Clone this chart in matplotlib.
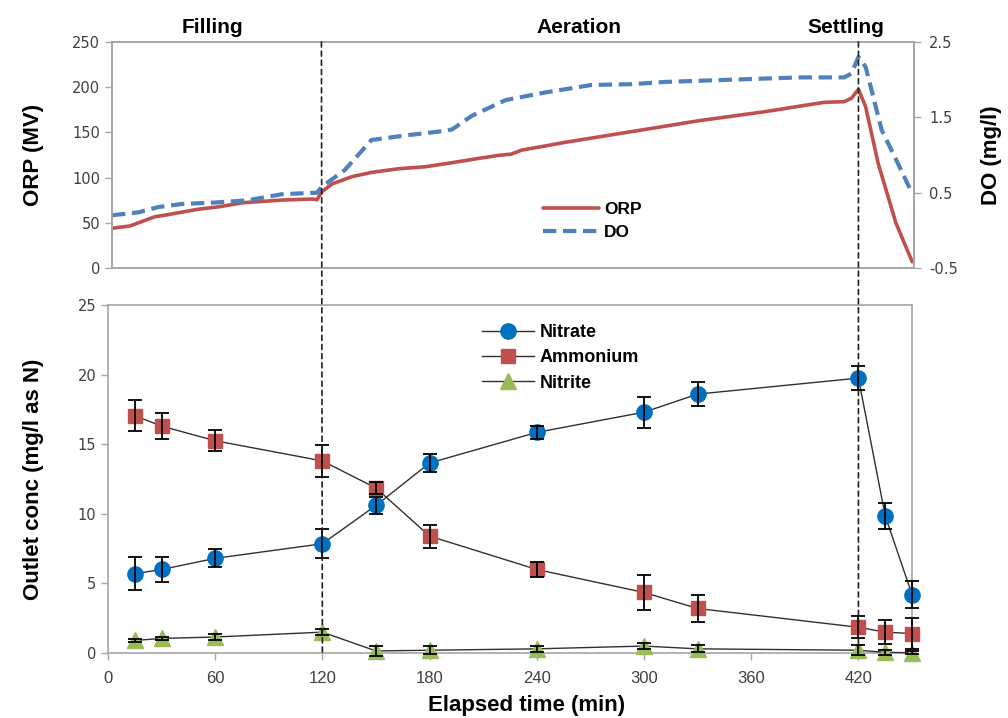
import matplotlib
matplotlib.use("Agg")
import matplotlib.pyplot as plt
from matplotlib.patches import ConnectionPatch

# ---------------- data ----------------
orp_t = [3, 13, 27, 33, 51, 63, 76, 98, 115, 117.5, 120.3, 126, 137, 148, 163, 178, 193,
         208, 219, 226, 232, 245, 256, 293, 331, 368, 387, 401, 412, 416, 420, 424, 431, 441, 450]
orp_v = [44, 46.5, 56.8, 58.6, 65, 67.8, 72.2, 75.2, 76.3, 75.5, 84.4, 93, 101, 105.8, 109.8,
         112, 116.5, 121.3, 124.6, 126, 130.5, 135, 139, 150.8, 163, 173, 179, 183.3, 184,
         187.7, 197.6, 178.4, 115.8, 49.4, 7]

do_t = [3, 18, 29, 42, 61, 79, 98, 117.5, 120.3, 133, 148, 167, 189, 193, 204, 223, 245,
        271, 293, 312, 349, 387, 412, 416, 420, 424, 433, 442, 450]
do_v = [0.20, 0.24, 0.31, 0.35, 0.37, 0.40, 0.48, 0.50, 0.58, 0.80, 1.20, 1.26, 1.32, 1.34,
        1.52, 1.73, 1.83, 1.93, 1.94, 1.97, 2.00, 2.03, 2.03, 2.08, 2.30, 2.17, 1.33, 0.89, 0.49]

time_pts = [15, 30, 60, 120, 150, 180, 240, 300, 330, 420, 435, 450]
nitrate = [5.7, 6.0, 6.8, 7.85, 10.6, 13.65, 15.85, 17.3, 18.6, 19.75, 9.85, 4.2]
nitrate_err = [1.2, 0.9, 0.65, 1.05, 0.6, 0.65, 0.45, 1.1, 0.85, 0.88, 0.95, 1.0]
ammonium = [17.05, 16.3, 15.25, 13.8, 11.85, 8.4, 6.0, 4.35, 3.2, 1.85, 1.5, 1.4]
ammonium_err = [1.1, 0.95, 0.75, 1.15, 0.42, 0.83, 0.57, 1.23, 0.95, 0.8, 0.87, 1.1]
nitrite = [0.9, 1.05, 1.15, 1.5, 0.15, 0.2, 0.3, 0.5, 0.3, 0.2, 0.05, 0.02]
nitrite_err = [0.1, 0.1, 0.2, 0.2, 0.35, 0.3, 0.2, 0.2, 0.25, 0.35, 0.2, 0.1]

phase_labels = ["Filling", "Aeration", "Settling"]
phase_x = [59, 264, 413]
phase_bounds = [120, 420]

x_ticks = [0, 60, 120, 180, 240, 300, 360, 420]
orp_ticks = [0, 50, 100, 150, 200, 250]
do_ticks = [-0.5, 0.5, 1.5, 2.5]
conc_ticks = [0, 5, 10, 15, 20, 25]

# ---------------- style ----------------
RED = "#C0504D"
BLUE = "#4F81BD"
NBLUE = "#0070C0"
GREEN = "#9BBB59"
SPINE = "#A6A6A6"
TICKC = "#404040"
BOLD = dict(family=["Liberation Sans", "DejaVu Sans"], weight="bold")
TICKFONT = dict(family=["DejaVu Sans"], size=10.5)

fig = plt.figure(figsize=(10.08, 7.18), dpi=100)
ax1 = fig.add_axes([0.1111, 0.6267, 0.7956, 0.3148])
ax2 = ax1.twinx()
ax3 = fig.add_axes([0.1071, 0.0905, 0.7977, 0.4847])

# ---- top panel ----
ax1.plot(orp_t, orp_v, color=RED, lw=2.6, label="ORP", solid_capstyle="round")
ax2.plot(do_t, do_v, color=BLUE, lw=3, ls=(0, (3.2, 1.6)), label="DO")
ax1.set_xlim(3, 451)
ax1.set_ylim(0, 250)
ax2.set_ylim(-0.5, 2.5)
ax1.set_yticks(orp_ticks)
ax2.set_yticks(do_ticks)
ax2.set_yticklabels(["%g" % v for v in do_ticks])
ax1.set_xticks([])
for a in (ax1, ax2):
    for s in a.spines.values():
        s.set_color(SPINE)
        s.set_linewidth(1.2)
    a.tick_params(axis="y", colors=SPINE, labelcolor=TICKC, length=5, width=1)
    for lab in a.get_yticklabels():
        lab.set_fontfamily(TICKFONT["family"])
        lab.set_fontsize(TICKFONT["size"])
ax2.tick_params(axis="y", pad=6)
ax1.set_ylabel("ORP (MV)", fontsize=16, **BOLD)
ax1.yaxis.set_label_coords(-0.085, 0.5)
ax2.set_ylabel("DO (mg/l)", fontsize=16, rotation=90, **BOLD)
ax2.yaxis.set_label_coords(1.084, 0.5)

h1, l1 = ax1.get_legend_handles_labels()
h2, l2 = ax2.get_legend_handles_labels()
ax1.legend(h1 + h2, l1 + l2, loc="center left", bbox_to_anchor=(0.518, 0.21),
           frameon=False, handlelength=3.2, handletextpad=0.3, labelspacing=0.45,
           prop=dict(size=12.5, **BOLD))

for lbl, xp in zip(phase_labels, phase_x):
    ax1.text(xp, 1.062, lbl, transform=ax1.get_xaxis_transform(), ha="center", va="center",
             fontsize=15, **BOLD)

# ---- bottom panel ----
ax3.plot(time_pts, nitrate, color="#303030", lw=1, marker="o", ms=11, mfc=NBLUE,
         mec=NBLUE, label="Nitrate", zorder=3, clip_on=False)
ax3.plot(time_pts, ammonium, color="#303030", lw=1, marker="s", ms=10, mfc=RED,
         mec=RED, label="Ammonium", zorder=3, clip_on=False)
ax3.plot(time_pts, nitrite, color="#303030", lw=1, marker="^", ms=11, mfc=GREEN,
         mec=GREEN, label="Nitrite", zorder=3, clip_on=False)
for vals, errs in ((nitrate, nitrate_err), (ammonium, ammonium_err), (nitrite, nitrite_err)):
    eb = ax3.errorbar(time_pts, vals, yerr=errs, fmt="none", ecolor="black", elinewidth=1.3,
                      capsize=5, capthick=1.3, zorder=4)
    for art in eb.lines[1] + eb.lines[2]:
        art.set_clip_on(False)
ax3.set_xlim(0, 450)
ax3.set_ylim(0, 25)
ax3.set_xticks(x_ticks)
ax3.set_yticks(conc_ticks)
for s in ax3.spines.values():
    s.set_color(SPINE)
    s.set_linewidth(1.2)
ax3.tick_params(axis="both", colors=SPINE, labelcolor=TICKC, length=5, width=1)
for lab in ax3.get_yticklabels():
    lab.set_fontfamily(TICKFONT["family"])
    lab.set_fontsize(TICKFONT["size"])
for lab in ax3.get_xticklabels():
    lab.set_fontfamily(["Liberation Sans Narrow", "Liberation Sans", "DejaVu Sans"])
    lab.set_fontsize(12)
ax3.tick_params(axis="x", pad=8)
ax3.set_xlabel("Elapsed time (min)", fontsize=16, **BOLD)
ax3.xaxis.set_label_coords(0.52, -0.12)
ax3.set_ylabel("Outlet conc (mg/l as N)", fontsize=16, **BOLD)
ax3.yaxis.set_label_coords(-0.08, 0.5)
ax3.legend(loc="center left", bbox_to_anchor=(0.445, 0.848), frameon=False,
           handlelength=2.9, handletextpad=0.3, labelspacing=0.45,
           prop=dict(size=13, **BOLD))

# ---- phase boundaries spanning both panels ----
for xb in phase_bounds:
    con = ConnectionPatch(xyA=(xb, 250), coordsA=ax1.transData,
                          xyB=(xb, 0), coordsB=ax3.transData,
                          color="#202020", lw=1.2, ls=(0, (3, 2.5)), zorder=5)
    fig.add_artist(con)

fig.savefig("out.png", dpi=100)
